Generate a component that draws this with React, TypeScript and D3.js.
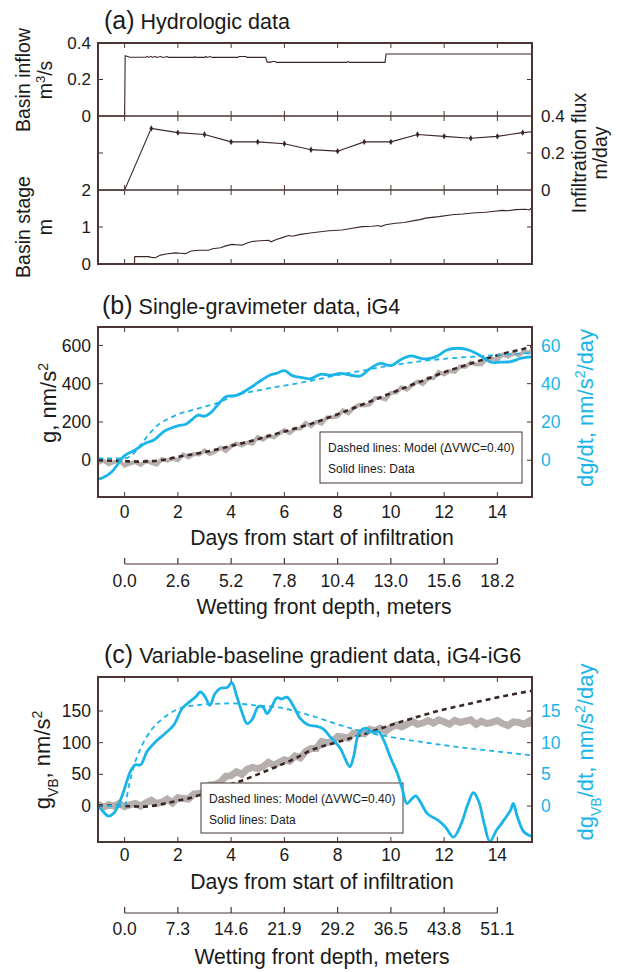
import React from 'react';
import * as d3 from 'd3';

// ---------- tick labels ----------
const dayTicks = [0, 2, 4, 6, 8, 10, 12, 14];
const depthLabelsB = ['0.0', '2.6', '5.2', '7.8', '10.4', '13.0', '15.6', '18.2'];
const depthLabelsC = ['0.0', '7.3', '14.6', '21.9', '29.2', '36.5', '43.8', '51.1'];
const inflowTicks = [0, 0.2, 0.4];
const fluxTicks = [0, 0.2, 0.4];
const stageTicks = [0, 1, 2];
const gTicksB = [0, 200, 400, 600];
const rateTicksB = [0, 20, 40, 60];
const gTicksC = [0, 50, 100, 150];
const rateTicksC = [0, 5, 10, 15];

// ---------- panel (a) data: [day, value] ----------
const inflow: [number, number][] = [
  [-1, 0], [0, 0], [0.02, 0.33], [0.2, 0.322], [0.8, 0.322], [0.85, 0.327], [0.9, 0.321], [1.0, 0.327],
  [1.05, 0.321], [1.15, 0.327], [1.2, 0.321], [1.35, 0.326], [1.45, 0.321], [1.6, 0.326], [1.65, 0.321],
  [2.6, 0.321], [2.63, 0.325], [2.68, 0.321], [3.0, 0.321], [3.05, 0.326], [3.1, 0.321], [3.2, 0.326],
  [3.3, 0.321], [4.25, 0.321], [4.3, 0.326], [4.55, 0.326], [4.6, 0.321], [5.3, 0.321], [5.35, 0.295],
  [5.5, 0.295], [5.55, 0.299], [5.65, 0.299], [5.7, 0.294], [8.35, 0.294], [8.4, 0.298], [8.45, 0.294],
  [9.78, 0.294], [9.82, 0.34], [15.3, 0.34],
];
const flux: [number, number][] = [
  [-1, 0], [0, 0], [1, 0.333], [2, 0.31], [3, 0.30], [4, 0.26], [5, 0.26], [6, 0.25], [7, 0.218],
  [8, 0.21], [9, 0.26], [10, 0.26], [11, 0.30], [12, 0.29], [13, 0.28], [14, 0.29], [14.95, 0.31], [15.3, 0.315],
];
const fluxMarkers: [number, number][] = [
  [1, 0.333], [2, 0.31], [3, 0.30], [4, 0.26], [5, 0.26], [6, 0.25], [7, 0.218],
  [8, 0.21], [9, 0.26], [10, 0.26], [11, 0.30], [12, 0.29], [13, 0.28], [14, 0.29], [14.95, 0.31],
];
const stage: [number, number][] = [
  [0.37, 0], [0.38, 0.2], [0.9, 0.2], [1.0, 0.18], [1.15, 0.17], [1.35, 0.24], [1.55, 0.27], [1.9, 0.3],
  [2.1, 0.29], [2.28, 0.28], [2.5, 0.35], [2.8, 0.37], [3.15, 0.37], [3.3, 0.41], [3.6, 0.44], [3.8, 0.49],
  [4.03, 0.53], [4.2, 0.52], [4.41, 0.51], [4.6, 0.57], [4.79, 0.61], [5.1, 0.63], [5.41, 0.64], [5.5, 0.6],
  [5.7, 0.66], [5.95, 0.72], [6.16, 0.77], [6.3, 0.75], [6.6, 0.8], [6.91, 0.83], [7.2, 0.86], [7.67, 0.9],
  [8.17, 0.92], [8.5, 0.96], [8.92, 1.01], [9.3, 1.02], [9.55, 1.04], [9.62, 1.01], [9.8, 1.06], [10.17, 1.1],
  [10.5, 1.12], [10.92, 1.18], [11.1, 1.2], [11.3, 1.24], [11.8, 1.28], [12.3, 1.33], [12.7, 1.35],
  [13.06, 1.38], [13.56, 1.4], [13.8, 1.42], [14.18, 1.45], [14.4, 1.44], [14.68, 1.47], [15.06, 1.48],
  [15.2, 1.46], [15.3, 1.53],
];

// ---------- panel (b) data ----------
const gDataB: [number, number][] = [
  [-1.0, -15], [-0.8, -2], [-0.6, -21], [-0.4, -10], [-0.2, -1], [0.0, -28], [0.2, -17], [0.4, -9],
  [0.6, -24], [0.8, -5], [1.0, -14], [1.2, -23], [1.4, 6], [1.6, -2], [1.8, 9], [2.0, 0], [2.2, 30],
  [2.4, 15], [2.6, 32], [2.8, 30], [3.0, 51], [3.2, 33], [3.4, 46], [3.6, 65], [3.8, 48], [4.0, 73],
  [4.2, 88], [4.4, 77], [4.6, 92], [4.8, 86], [5.0, 121], [5.2, 108], [5.4, 128], [5.6, 120], [5.8, 139],
  [6.0, 158], [6.2, 142], [6.4, 165], [6.6, 166], [6.8, 195], [7.0, 177], [7.2, 201], [7.4, 191],
  [7.6, 224], [7.8, 225], [8.0, 229], [8.2, 261], [8.4, 245], [8.6, 273], [8.8, 289], [9.0, 286],
  [9.2, 291], [9.4, 324], [9.6, 326], [9.8, 318], [10.0, 352], [10.2, 354], [10.4, 381], [10.6, 369],
  [10.8, 393], [11.0, 411], [11.2, 398], [11.4, 428], [11.6, 428], [11.8, 461], [12.0, 448], [12.2, 466],
  [12.4, 462], [12.6, 490], [12.8, 488], [13.0, 510], [13.2, 500], [13.4, 501], [13.6, 530], [13.8, 529],
  [14.0, 526], [14.2, 552], [14.4, 542], [14.6, 558], [14.8, 548], [15.0, 567], [15.2, 562], [15.3, 575],
];
const gModelB: [number, number][] = [
  [-1, 0], [-0.5, -2], [0, -5], [0.5, -7], [1, -5], [1.5, 3], [2, 18], [2.5, 30], [3, 42], [3.5, 58],
  [4, 75], [4.5, 92], [5, 110], [5.5, 130], [6, 150], [6.5, 170], [7, 190], [7.5, 215], [8, 240],
  [8.5, 267], [9, 295], [9.5, 322], [10, 350], [10.5, 378], [11, 405], [11.5, 432], [12, 460],
  [12.5, 483], [13, 505], [13.5, 527], [14, 548], [14.5, 566], [15, 582], [15.3, 592],
];
const rateDataB: [number, number][] = [
  [-1, -9.8], [-0.8, -9], [-0.48, -6], [0, 2.4], [0.4, 5.4], [0.78, 8.9], [1.1, 10.6], [1.5, 15.3],
  [2, 18], [2.3, 18.8], [2.55, 21.5], [2.75, 23.6], [3.0, 23], [3.25, 25], [3.55, 29.8], [3.8, 33.2],
  [4.2, 33.9], [4.65, 37.2], [5.15, 41.9], [5.47, 44.5], [5.7, 45.4], [6.0, 46.8], [6.3, 44.2],
  [6.67, 43.1], [7.0, 42.6], [7.35, 44.9], [7.73, 44.4], [8.1, 45.4], [8.5, 44.4], [8.85, 44],
  [9.23, 48], [9.6, 50.6], [10.0, 49.4], [10.35, 52.4], [10.75, 54.5], [11.1, 53.3], [11.38, 53],
  [11.75, 54.5], [12.1, 57.6], [12.5, 58.5], [12.8, 58], [13.2, 55.9], [13.5, 53.3], [13.75, 51.2],
  [14.1, 51.2], [14.5, 51.5], [14.9, 53.3], [15.3, 54],
];
const rateModelB: [number, number][] = [
  [-1, 1], [0, 1], [0.3, 3], [0.6, 8], [1.0, 15], [1.3, 19], [1.7, 22], [2, 24], [2.5, 26], [3, 28],
  [3.5, 30], [4, 33], [5, 36.5], [6, 39], [7, 41.5], [8, 44.5], [9, 47], [10, 49.5], [11, 51.5],
  [12, 53], [13, 54], [14, 55], [15.3, 56],
];

// ---------- panel (c) data ----------
const gDataC: [number, number][] = [
  [-1.0, 3], [-0.8, -2], [-0.6, 2], [-0.4, 0], [-0.2, 4], [0.0, -1], [0.2, 2], [0.4, 4], [0.6, 0], [0.8, 5],
  [1.0, 9], [1.2, 4], [1.4, 6], [1.6, 11], [1.8, 5], [2.0, 13], [2.2, 12], [2.4, 11], [2.6, 19], [2.8, 20],
  [3.0, 21], [3.2, 33], [3.4, 34], [3.6, 38], [3.8, 47], [4.0, 48], [4.2, 54], [4.4, 50], [4.6, 58],
  [4.8, 61], [5.0, 59], [5.2, 62], [5.4, 69], [5.6, 64], [5.8, 69], [6.0, 73], [6.2, 71], [6.4, 79],
  [6.6, 76], [6.8, 86], [7.0, 91], [7.2, 91], [7.4, 102], [7.6, 100], [7.8, 102], [8.0, 110], [8.2, 109],
  [8.4, 107], [8.6, 115], [8.8, 116], [9.0, 114], [9.2, 121], [9.4, 119], [9.6, 123], [9.8, 118],
  [10.0, 124], [10.2, 128], [10.4, 125], [10.6, 129], [10.8, 134], [11.0, 129], [11.2, 131], [11.4, 135],
  [11.6, 131], [11.8, 136], [12.0, 133], [12.2, 129], [12.4, 135], [12.6, 132], [12.8, 134], [13.0, 136],
  [13.2, 129], [13.4, 134], [13.6, 130], [13.8, 132], [14.0, 135], [14.2, 130], [14.4, 127], [14.6, 133],
  [14.8, 132], [15.0, 129], [15.2, 134], [15.3, 127],
];
const gModelC: [number, number][] = [
  [-1, 1], [0, 0], [0.78, -1], [1.4, 3], [2, 8.4], [2.5, 13], [3, 20], [3.5, 27], [4, 34.7], [4.5, 41.5],
  [5, 50], [5.5, 58.5], [6, 67.3], [6.5, 77], [7, 88], [7.5, 95], [8, 101], [9, 113.6], [10, 127.8],
  [11, 140.9], [12, 152.5], [13, 162], [14, 171.5], [15.3, 182],
];
const rateDataC: [number, number][] = [
  [-1, 0.15], [-0.8, -0.9], [-0.6, -1.6], [-0.41, -1.15], [-0.23, 0.15], [0, 2.8], [0.21, 5.4], [0.4, 6.5],
  [0.6, 6.5], [0.84, 8.6], [1.15, 10.1], [1.53, 11.5], [1.85, 12.8], [2.16, 15.4], [2.48, 16.6], [2.66, 17.2],
  [2.85, 18.0], [3.03, 17.2], [3.2, 15.9], [3.4, 17.8], [3.6, 18.6], [3.85, 18.7], [4.03, 19.5], [4.2, 17.5],
  [4.4, 14.9], [4.6, 13], [4.78, 13.6], [5.03, 15.7], [5.2, 15.6], [5.35, 14.6], [5.53, 15.7], [5.72, 17.1],
  [5.9, 16.9], [6.1, 17.2], [6.35, 15.7], [6.6, 13.8], [6.9, 12.8], [7.2, 12.6], [7.45, 12.2], [7.73, 10.9],
  [8.1, 9.1], [8.3, 7.3], [8.46, 6.2], [8.6, 7.8], [8.8, 11.5], [9.05, 12.3], [9.3, 11.7], [9.55, 11.7],
  [9.73, 10.4], [10.0, 7.5], [10.24, 5.2], [10.42, 2.8], [10.6, 0.4], [10.8, 1.2], [10.93, 1.6], [11.1, 0.7],
  [11.37, -1.2], [11.75, -2.2], [12.05, -3.3], [12.35, -4.9], [12.65, -2.7], [12.9, 0.4], [13.1, 2.1],
  [13.3, 0.7], [13.5, -2.7], [13.72, -5.6], [13.97, -3.8], [14.2, -2.5], [14.5, -0.6], [14.6, 0.4],
  [14.75, -1.7], [15.0, -4.1], [15.3, -4.8],
];
const rateModelC: [number, number][] = [
  [-1, 0], [0, 0], [0.15, 3.0], [0.34, 6.2], [0.6, 9.1], [1.0, 12], [1.4, 13.7], [2.0, 15.3], [2.66, 15.9],
  [4, 16.2], [4.9, 15.9], [6, 15.4], [6.9, 14.4], [8, 12.9], [9, 11.7], [10, 10.9], [12, 9.6], [14, 8.6],
  [15.3, 8.0],
];

// ---------- styling ----------
const FONT = 'Liberation Sans, Arial, Helvetica, sans-serif';
const FRAME = '#4b3434';
const DARK = '#3b2626';
const CYAN = '#1ab4e8';
const GRAY = '#b7aeae';
const INK = '#1a1a1a';

const X0 = 98;
const X1 = 532;
const x = d3.scaleLinear().domain([-1, 15.3]).range([X0, X1]);

// panel (a)
const yInflow = d3.scaleLinear().domain([0, 0.4]).range([116, 43]);
const yFlux = d3.scaleLinear().domain([0, 0.4]).range([190, 116]);
const yStage = d3.scaleLinear().domain([0, 2]).range([264, 190]);
// panel (b)
const yGB = d3.scaleLinear().domain([-192, 696]).range([497, 327]);
const yRB = d3.scaleLinear().domain([-19.2, 69.6]).range([497, 327]);
// panel (c)
const yGC = d3.scaleLinear().domain([-56.8, 203.7]).range([842, 677]);
const yRC = d3.scaleLinear().domain([-5.68, 20.37]).range([842, 677]);

const TICK = 17.5;
const AXT = 21.2;
const TITLE = 21.5;
const PAREN = 25;
const YLAB = 22;

function path(data: [number, number][], ys: d3.ScaleLinear<number, number>, curve: any = d3.curveLinear) {
  return d3.line<[number, number]>().x(d => x(d[0])).y(d => ys(d[1])).curve(curve)(data) || '';
}

function XTicks({ top, bottom }: { top: number; bottom: number }) {
  return (
    <g stroke={FRAME} strokeWidth={1}>
      {dayTicks.map(t => (
        <g key={t}>
          <line x1={x(t)} x2={x(t)} y1={top} y2={top + 5} />
          <line x1={x(t)} x2={x(t)} y1={bottom - 5} y2={bottom} />
        </g>
      ))}
    </g>
  );
}

function YTicks({ vals, ys }: { vals: number[]; ys: any }) {
  return (
    <g stroke={FRAME} strokeWidth={1}>
      {vals.map(v => (
        <g key={v}>
          <line x1={X0} x2={X0 + 5} y1={ys(v)} y2={ys(v)} />
          <line x1={X1 - 5} x2={X1} y1={ys(v)} y2={ys(v)} />
        </g>
      ))}
    </g>
  );
}

function DaysAxis({ labelY, titleY, lineY, depthY, depthTitleY, labels, titleCx, depthCx }: any) {
  return (
    <g fontFamily={FONT} fill={INK}>
      {dayTicks.map(t => (
        <text key={t} x={x(t)} y={labelY} textAnchor="middle" fontSize={TICK}>{t}</text>
      ))}
      <text x={titleCx} y={titleY} textAnchor="middle" fontSize={AXT}>Days from start of infiltration</text>
      <line x1={x(0)} x2={x(14)} y1={lineY} y2={lineY} stroke={FRAME} strokeWidth={1.2} />
      {dayTicks.map(t => (
        <line key={'t' + t} x1={x(t)} x2={x(t)} y1={lineY - 6} y2={lineY} stroke={FRAME} strokeWidth={1.2} />
      ))}
      {dayTicks.map((t, i) => (
        <text key={'d' + t} x={x(t)} y={depthY} textAnchor="middle" fontSize={TICK}>{labels[i]}</text>
      ))}
      <text x={depthCx} y={depthTitleY} textAnchor="middle" fontSize={AXT}>Wetting front depth, meters</text>
    </g>
  );
}

function Legend({ x0, y0, w, h }: { x0: number; y0: number; w: number; h: number }) {
  return (
    <g fontFamily={FONT} fontSize={12} fill={INK}>
      <rect x={x0} y={y0} width={w} height={h} fill="white" stroke={FRAME} strokeWidth={1} />
      <text x={x0 + 8} y={y0 + 20}>Dashed lines: Model (ΔVWC=0.40)</text>
      <text x={x0 + 8} y={y0 + 41}>Solid lines: Data</text>
    </g>
  );
}

export default function App() {
  return (
    <svg width={621} height={972} style={{ position: 'absolute', left: 0, top: 0, background: 'white' }}
      fontFamily={FONT}>
      <defs>
        <clipPath id="clipB"><rect x={X0} y={327} width={X1 - X0} height={170} /></clipPath>
        <clipPath id="clipC"><rect x={X0} y={677} width={X1 - X0} height={165} /></clipPath>
      </defs>

      {/* ================= Panel (a) ================= */}
      <text x={104} y={29} fontSize={TITLE} fill={INK}><tspan fontSize={PAREN}>(a)</tspan> Hydrologic data</text>
      <path d={path(inflow, yInflow)} fill="none" stroke={DARK} strokeWidth={1.1} />
      <path d={path(flux, yFlux)} fill="none" stroke={DARK} strokeWidth={1.1} />
      {fluxMarkers.map((p, i) => (
        <path key={i} d={d3.symbol(d3.symbolDiamond, 12)() || ''} transform={`translate(${x(p[0])},${yFlux(p[1])})`} fill={DARK} />
      ))}
      <path d={path(stage, yStage)} fill="none" stroke={DARK} strokeWidth={1.1} />
      <XTicks top={43} bottom={264} />
      <g stroke={FRAME} strokeWidth={1}>
        {dayTicks.map(t => (
          <g key={t}>
            <line x1={x(t)} x2={x(t)} y1={111} y2={121} />
            <line x1={x(t)} x2={x(t)} y1={185} y2={195} />
          </g>
        ))}
      </g>
      <YTicks vals={[0.2]} ys={yInflow} />
      <YTicks vals={[0.2]} ys={yFlux} />
      <YTicks vals={[1]} ys={yStage} />
      <line x1={X0} x2={X1} y1={116} y2={116} stroke={FRAME} strokeWidth={1.3} />
      <line x1={X0} x2={X1} y1={190} y2={190} stroke={FRAME} strokeWidth={1.3} />
      <rect x={X0} y={43} width={X1 - X0} height={221} fill="none" stroke={FRAME} strokeWidth={2} />
      <g fontSize={17} fill={INK}>
        {inflowTicks.map(v => (
          <text key={'i' + v} x={91} y={yInflow(v)} dy="0.35em" textAnchor="end">{v === 0 ? '0' : v.toFixed(1)}</text>
        ))}
        {stageTicks.map(v => (
          <text key={'s' + v} x={91} y={yStage(v)} dy="0.35em" textAnchor="end">{v}</text>
        ))}
        {fluxTicks.map(v => (
          <text key={'f' + v} x={541} y={yFlux(v)} dy="0.35em" textAnchor="start">{v === 0 ? '0' : v.toFixed(1)}</text>
        ))}
      </g>
      <g fontSize={19.5} fill={INK} textAnchor="middle">
        <text transform="translate(30,80) rotate(-90)">Basin inflow</text>
        <text transform="translate(52,80) rotate(-90)">m<tspan baselineShift="super" fontSize={13}>3</tspan>/s</text>
        <text transform="translate(30,227) rotate(-90)">Basin stage</text>
        <text transform="translate(52,227) rotate(-90)">m</text>
        <text transform="translate(586,153) rotate(-90)">Infiltration flux</text>
        <text transform="translate(607,153) rotate(-90)">m/day</text>
      </g>

      {/* ================= Panel (b) ================= */}
      <text x={102} y={314} fontSize={TITLE} fill={INK}><tspan fontSize={PAREN}>(b)</tspan> Single-gravimeter data, iG4</text>
      <g clipPath="url(#clipB)">
        <path d={path(gDataB, yGB)} fill="none" stroke={GRAY} strokeWidth={4} strokeLinejoin="miter" />
        <path d={path(gModelB, yGB, d3.curveMonotoneX)} fill="none" stroke={DARK} strokeWidth={2.6} strokeDasharray="5,4" />
        <path d={path(rateModelB, yRB, d3.curveMonotoneX)} fill="none" stroke={CYAN} strokeWidth={1.8} strokeDasharray="5,4" />
        <path d={path(rateDataB, yRB, d3.curveCatmullRom)} fill="none" stroke={CYAN} strokeWidth={2.8} />
      </g>
      <Legend x0={320} y0={432} w={202} h={51} />
      <XTicks top={327} bottom={497} />
      <YTicks vals={gTicksB} ys={yGB} />
      <rect x={X0} y={327} width={X1 - X0} height={170} fill="none" stroke={FRAME} strokeWidth={2} />
      <g fontSize={TICK}>
        {gTicksB.map(v => (
          <text key={v} x={91} y={yGB(v)} dy="0.35em" textAnchor="end" fill={INK}>{v}</text>
        ))}
        {rateTicksB.map(v => (
          <text key={'r' + v} x={541} y={yRB(v)} dy="0.35em" textAnchor="start" fill={CYAN}>{v}</text>
        ))}
      </g>
      <g fontSize={YLAB} textAnchor="middle">
        <text transform="translate(56,403) rotate(-90)" fill={INK}>g, nm/s<tspan baselineShift="super" fontSize={14}>2</tspan></text>
        <text transform="translate(593,408) rotate(-90)" fill={CYAN}>dg/dt, nm/s<tspan baselineShift="super" fontSize={14}>2</tspan>/day</text>
      </g>
      <DaysAxis labelY={518} titleY={545} lineY={564} depthY={587} depthTitleY={614} labels={depthLabelsB}
        titleCx={322} depthCx={324} />

      {/* ================= Panel (c) ================= */}
      <text x={104} y={663} fontSize={TITLE} fill={INK}><tspan fontSize={PAREN}>(c)</tspan> Variable-baseline gradient data, iG4-iG6</text>
      <g clipPath="url(#clipC)">
        <path d={path(gDataC, yGC)} fill="none" stroke={GRAY} strokeWidth={7} strokeLinejoin="miter" />
        <path d={path(gModelC, yGC, d3.curveMonotoneX)} fill="none" stroke={DARK} strokeWidth={2.6} strokeDasharray="5,4" />
        <path d={path(rateModelC, yRC, d3.curveMonotoneX)} fill="none" stroke={CYAN} strokeWidth={1.8} strokeDasharray="5,4" />
      </g>
      <Legend x0={201} y0={783} w={202} h={50} />
      <g clipPath="url(#clipC)">
        <path d={path(rateDataC, yRC, d3.curveCatmullRom)} fill="none" stroke={CYAN} strokeWidth={2.8} />
      </g>
      <XTicks top={677} bottom={842} />
      <YTicks vals={gTicksC} ys={yGC} />
      <rect x={X0} y={677} width={X1 - X0} height={165} fill="none" stroke={FRAME} strokeWidth={2} />
      <g fontSize={TICK}>
        {gTicksC.map(v => (
          <text key={v} x={91} y={yGC(v)} dy="0.35em" textAnchor="end" fill={INK}>{v}</text>
        ))}
        {rateTicksC.map(v => (
          <text key={'r' + v} x={541} y={yRC(v)} dy="0.35em" textAnchor="start" fill={CYAN}>{v}</text>
        ))}
      </g>
      <g fontSize={YLAB} textAnchor="middle">
        <text transform="translate(50,760) rotate(-90)" fill={INK}>g<tspan baselineShift="sub" fontSize={14}>VB</tspan>, nm/s<tspan baselineShift="super" fontSize={14}>2</tspan></text>
        <text transform="translate(593,752) rotate(-90)" fill={CYAN}>dg<tspan baselineShift="sub" fontSize={14}>VB</tspan>/dt, nm/s<tspan baselineShift="super" fontSize={14}>2</tspan>/day</text>
      </g>
      <DaysAxis labelY={861} titleY={889} lineY={913} depthY={935} depthTitleY={964} labels={depthLabelsC}
        titleCx={322} depthCx={322} />
    </svg>
  );
}
